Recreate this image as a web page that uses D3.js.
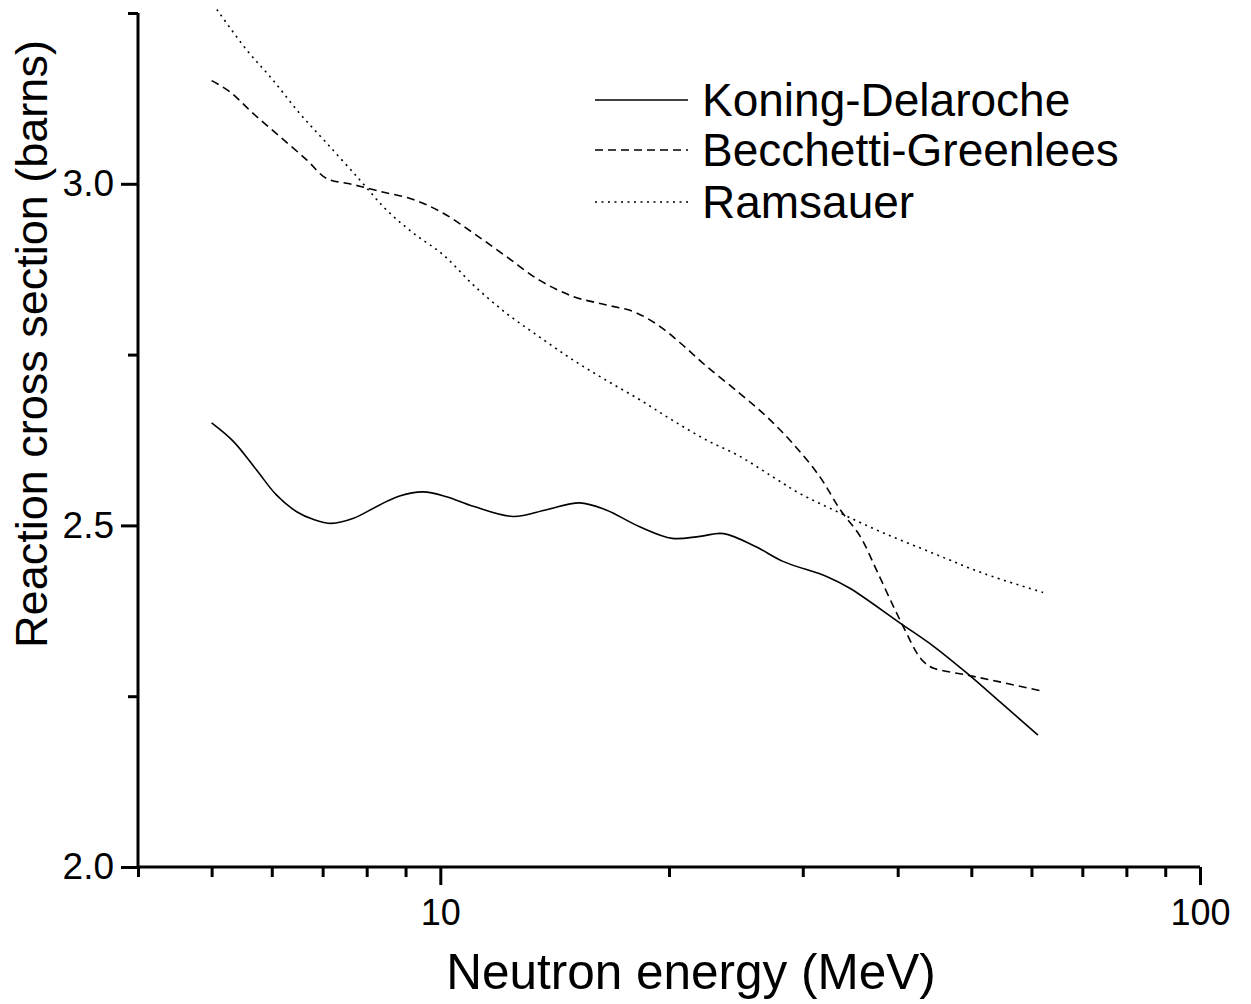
<!DOCTYPE html>
<html>
<head>
<meta charset="utf-8">
<script src="https://cdn.jsdelivr.net/npm/d3@7"></script>
<style>
  html, body { margin: 0; padding: 0; background: #fff; }
  svg text { font-family: "Liberation Sans", Arial, sans-serif; fill: #000; }
</style>
</head>
<body>
<svg id="chart" width="1251" height="1004"></svg>
<script>
// ---- data ----
const seriesNames = ["Koning-Delaroche", "Becchetti-Greenlees", "Ramsauer"];

const energyKD = [5.0, 5.34, 5.73, 6.08, 6.47, 6.80, 7.19, 7.67, 8.32, 8.84, 9.49, 10.19, 11.05, 12.47, 13.8, 15.25, 16.5, 18.3, 20.2, 21.96, 23.6, 26.0, 28.3, 32.3, 34.6, 40.3, 44.6, 49.3, 54.5, 61.2];
const sigmaKD  = [2.650, 2.623, 2.581, 2.545, 2.520, 2.509, 2.503, 2.510, 2.530, 2.543, 2.549, 2.542, 2.528, 2.513, 2.523, 2.533, 2.523, 2.498, 2.481, 2.484, 2.488, 2.469, 2.447, 2.425, 2.408, 2.357, 2.323, 2.284, 2.242, 2.193];

const energyBG = [5.0, 5.28, 5.67, 6.15, 6.67, 7.08, 7.67, 8.32, 9.21, 10.09, 11.05, 12.2, 13.5, 14.96, 16.5, 17.95, 19.3, 20.7, 22.4, 24.8, 26.9, 29.1, 31.6, 33.6, 35.7, 37.5, 39.5, 41.1, 42.4, 43.4, 44.6, 49.3, 54.5, 62.2];
const sigmaBG  = [3.151, 3.135, 3.103, 3.069, 3.035, 3.008, 2.999, 2.989, 2.977, 2.957, 2.928, 2.894, 2.859, 2.835, 2.823, 2.813, 2.794, 2.767, 2.733, 2.693, 2.659, 2.620, 2.571, 2.523, 2.484, 2.435, 2.381, 2.342, 2.313, 2.299, 2.291, 2.281, 2.271, 2.257];

const energyR = [5.08, 5.56, 6.02, 6.53, 7.08, 7.83, 8.49, 9.21, 10.09, 11.05, 12.2, 13.5, 14.96, 16.5, 18.3, 20.2, 22.4, 24.8, 27.4, 29.7, 33.6, 38.3, 44.6, 51.8, 62.5];
const sigmaR  = [3.255, 3.196, 3.152, 3.103, 3.060, 3.006, 2.962, 2.928, 2.896, 2.852, 2.811, 2.776, 2.742, 2.713, 2.684, 2.654, 2.625, 2.601, 2.571, 2.547, 2.518, 2.489, 2.459, 2.430, 2.401];

const xMajorTicks = [10, 100];
const xMinorTicks = [4, 5, 6, 7, 8, 9, 20, 30, 40, 50, 60, 70, 80, 90];
const yMajorTicks = [2.0, 2.5, 3.0];
const yMinorTicks = [2.25, 2.75, 3.25];

// ---- layout ----
const svg = d3.select("#chart");
const x = d3.scaleLog().domain([4, 100]).range([138, 1200]);
const y = d3.scaleLinear().domain([2.0, 3.25]).range([867, 13]);

const styles = [
  { dash: null },
  { dash: "8,5" },
  { dash: "2,4.5" }
];

const series = [
  energyKD.map((e, i) => [e, sigmaKD[i]]),
  energyBG.map((e, i) => [e, sigmaBG[i]]),
  energyR.map((e, i) => [e, sigmaR[i]])
];

const line = d3.line()
  .x(d => x(d[0]))
  .y(d => y(d[1]))
  .curve(d3.curveCatmullRom.alpha(0.5));

series.forEach((s, i) => {
  svg.append("path")
    .datum(s)
    .attr("d", line)
    .attr("fill", "none")
    .attr("stroke", "#000")
    .attr("stroke-width", 1.6)
    .attr("stroke-dasharray", styles[i].dash);
});

// ---- axes ----
const axisW = 3;
const xAxisMajor = d3.axisBottom(x).tickValues(xMajorTicks).tickSize(18).tickPadding(14).tickFormat(d3.format("d"));
const xAxisMinor = d3.axisBottom(x).tickValues(xMinorTicks).tickSize(10).tickFormat("");
const yAxisMajor = d3.axisLeft(y).tickValues(yMajorTicks).tickSize(17).tickPadding(7).tickFormat(d3.format(".1f"));
const yAxisMinor = d3.axisLeft(y).tickValues(yMinorTicks).tickSize(10).tickFormat("");

function styleAxis(g) {
  g.select(".domain").attr("stroke", "#000").attr("stroke-width", axisW);
  g.selectAll(".tick line").attr("stroke", "#000").attr("stroke-width", axisW);
}

const gxMin = svg.append("g").attr("transform", "translate(0,867)").call(xAxisMinor).call(styleAxis);
gxMin.select(".domain").remove();
const gxMaj = svg.append("g").attr("transform", "translate(0,867)").call(xAxisMajor).call(styleAxis);
gxMaj.select(".domain").attr("d", `M${x(4)},0H${x(100)}`);
gxMaj.selectAll(".tick text").attr("font-size", 36).attr("font-family", "Liberation Sans, Arial, sans-serif");

const gyMin = svg.append("g").attr("transform", "translate(138,0)").call(yAxisMinor).call(styleAxis);
gyMin.select(".domain").remove();
const gyMaj = svg.append("g").attr("transform", "translate(138,0)").call(yAxisMajor).call(styleAxis);
gyMaj.select(".domain").attr("d", `M0,${y(3.25)}V${y(2.0)}`);
gyMaj.selectAll(".tick text").attr("font-size", 37).attr("font-family", "Liberation Sans, Arial, sans-serif");

// ---- axis titles ----
svg.append("text")
  .attr("x", 691).attr("y", 989)
  .attr("text-anchor", "middle")
  .attr("font-size", 49.5)
  .text("Neutron energy (MeV)");

svg.append("text")
  .attr("transform", "translate(47,344) rotate(-90)")
  .attr("text-anchor", "middle")
  .attr("font-size", 45)
  .text("Reaction cross section (barns)");

// ---- legend ----
const legend = svg.append("g");
const legendY = [100, 150, 202];
seriesNames.forEach((name, i) => {
  legend.append("line")
    .attr("x1", 595).attr("x2", 688)
    .attr("y1", legendY[i]).attr("y2", legendY[i])
    .attr("stroke", "#000")
    .attr("stroke-width", 1.5)
    .attr("stroke-dasharray", styles[i].dash);
  legend.append("text")
    .attr("x", 702).attr("y", legendY[i])
    .attr("dy", "0.35em")
    .attr("font-size", 46)
    .text(name);
});
</script>
</body>
</html>
